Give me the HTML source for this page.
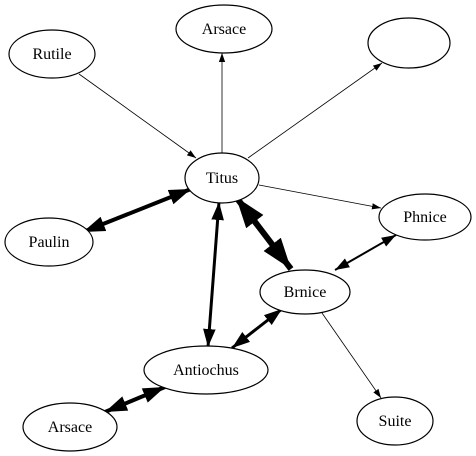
<!DOCTYPE html>
<html><head><style>html,body{margin:0;padding:0;background:#fff;width:476px;height:456px;overflow:hidden}</style></head>
<body>
<svg width="476" height="456" viewBox="0 0 476 456" xmlns="http://www.w3.org/2000/svg" font-family="Liberation Serif, serif" font-size="16">
<defs>
<marker id="a1" markerUnits="userSpaceOnUse" viewBox="0 0 10 7" refX="10" refY="3.5" markerWidth="9" markerHeight="6.5" orient="auto-start-reverse"><path d="M0,0L10,3.5L0,7z"/></marker>
<marker id="a2" markerUnits="userSpaceOnUse" viewBox="0 0 10 7" refX="10" refY="3.5" markerWidth="15" markerHeight="10" orient="auto-start-reverse"><path d="M0,0L10,3.5L0,7z"/></marker>
<marker id="a3" markerUnits="userSpaceOnUse" viewBox="0 0 10 7" refX="10" refY="3.5" markerWidth="18" markerHeight="13" orient="auto-start-reverse"><path d="M0,0L10,3.5L0,7z"/></marker>
<marker id="a4" markerUnits="userSpaceOnUse" viewBox="0 0 10 7" refX="10" refY="3.5" markerWidth="22" markerHeight="16" orient="auto-start-reverse"><path d="M0,0L10,3.5L0,7z"/></marker>
<marker id="a7" markerUnits="userSpaceOnUse" viewBox="0 0 10 7" refX="10" refY="3.5" markerWidth="31" markerHeight="23" orient="auto-start-reverse"><path d="M0,0L10,3.5L0,7z"/></marker>
</defs>
<g stroke="#000" fill="none">
<line x1="79" y1="74" x2="196" y2="158" stroke-width="0.8" marker-end="url(#a1)"/>
<line x1="222" y1="153" x2="222" y2="53" stroke-width="0.8" marker-end="url(#a1)"/>
<line x1="248" y1="158" x2="382" y2="63" stroke-width="0.8" marker-end="url(#a1)"/>
<line x1="259" y1="185" x2="381" y2="208" stroke-width="0.8" marker-end="url(#a1)"/>
<line x1="322" y1="313" x2="381" y2="398" stroke-width="0.8" marker-end="url(#a1)"/>
<line x1="83" y1="232" x2="191" y2="189" stroke-width="4" marker-start="url(#a4)" marker-end="url(#a4)"/>
<line x1="236" y1="197" x2="291" y2="269" stroke-width="6" marker-start="url(#a7)" marker-end="url(#a7)"/>
<line x1="208" y1="347" x2="219" y2="202" stroke-width="3" marker-start="url(#a3)" marker-end="url(#a3)"/>
<line x1="232" y1="348" x2="282" y2="309" stroke-width="3" marker-start="url(#a3)" marker-end="url(#a3)"/>
<line x1="335" y1="270" x2="396" y2="235" stroke-width="2" marker-start="url(#a2)" marker-end="url(#a2)"/>
<line x1="105" y1="412" x2="165" y2="387" stroke-width="4" marker-start="url(#a4)" marker-end="url(#a4)"/>
</g>
<g stroke="#000" stroke-width="1.2" fill="#fff">
<ellipse cx="52" cy="54" rx="43" ry="24"/>
<ellipse cx="224" cy="29" rx="48" ry="24"/>
<ellipse cx="409" cy="43" rx="41" ry="25"/>
<ellipse cx="222" cy="178" rx="37" ry="25"/>
<ellipse cx="425" cy="217" rx="46" ry="23"/>
<ellipse cx="49" cy="242" rx="44" ry="24"/>
<ellipse cx="305" cy="292" rx="45" ry="22"/>
<ellipse cx="206" cy="370" rx="62" ry="24"/>
<ellipse cx="70" cy="427" rx="47" ry="24"/>
<ellipse cx="395" cy="421" rx="38" ry="24"/>
</g>
<g text-anchor="middle" fill="#000">
<text x="52" y="59">Rutile</text>
<text x="224" y="34">Arsace</text>
<text x="222" y="183">Titus</text>
<text x="425" y="222">Phnice</text>
<text x="49" y="247">Paulin</text>
<text x="305" y="297">Brnice</text>
<text x="206" y="375">Antiochus</text>
<text x="70" y="432">Arsace</text>
<text x="395" y="426">Suite</text>
</g>
</svg>
</body></html>
